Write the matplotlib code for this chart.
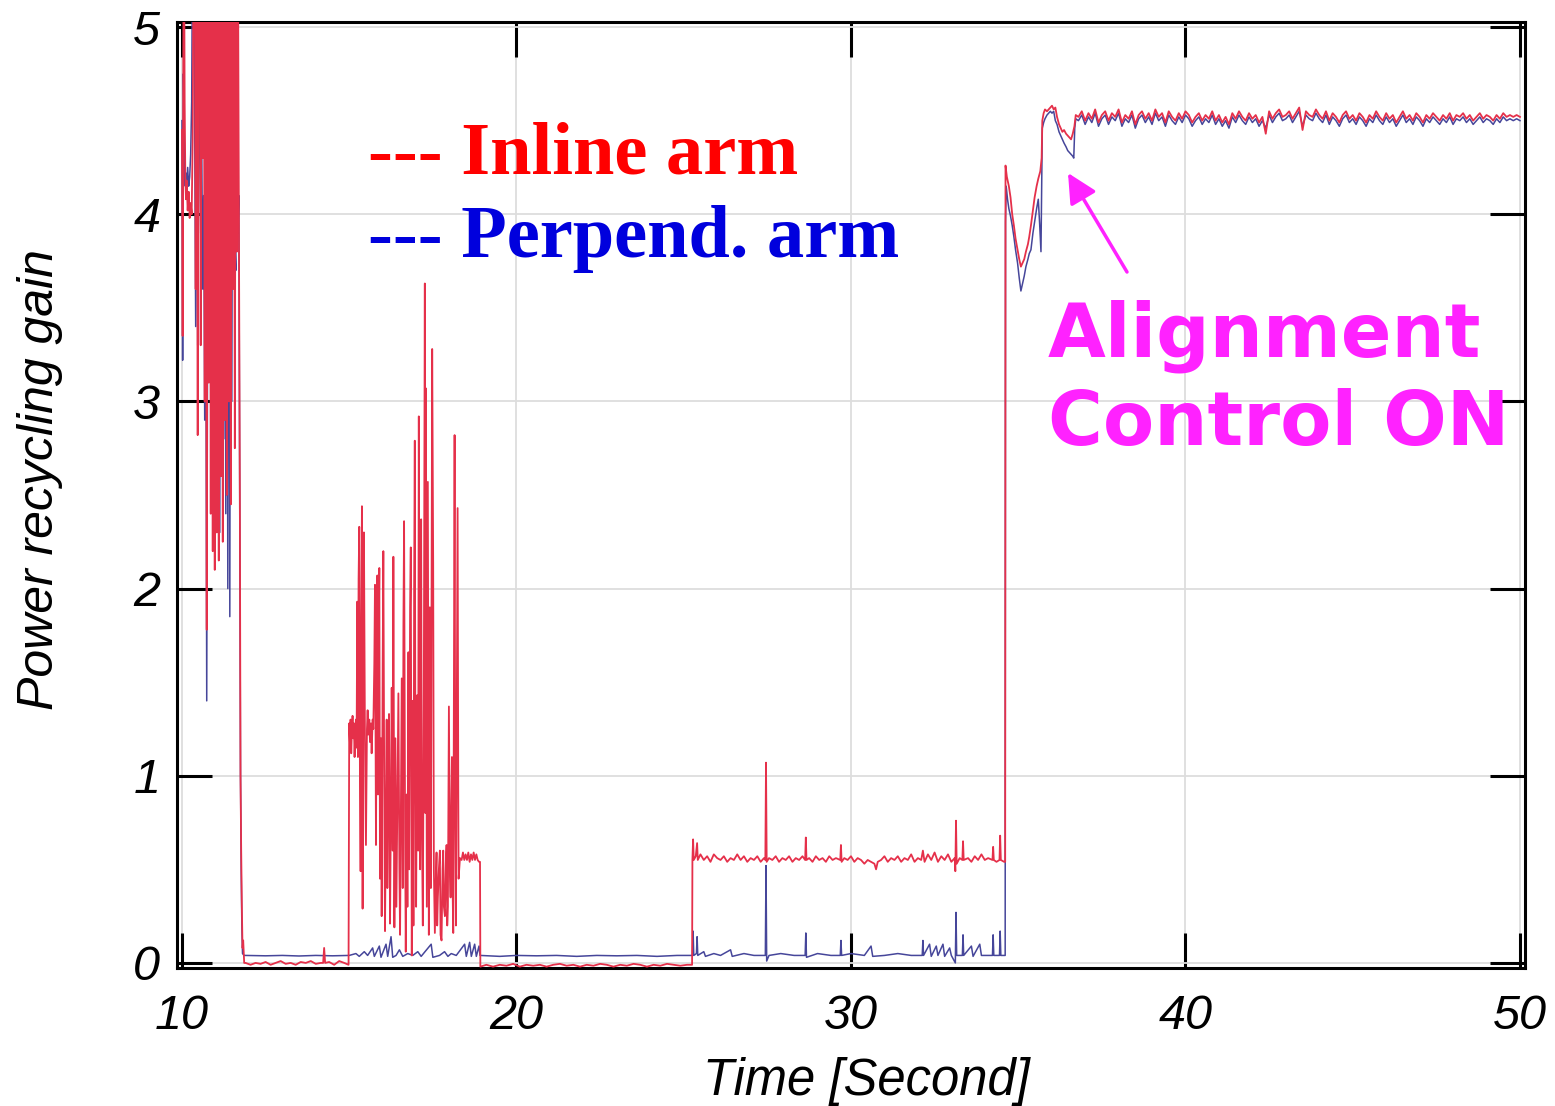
import numpy as np
import matplotlib
matplotlib.use('Agg')
import matplotlib.pyplot as plt

# gain, (time [s], gain); values above 5 run off the top
inline_swing = [(10.00, 4.45), (10.02, 3.35), (10.04, 4.9), (10.06, 5.6), (10.08, 4.6), (10.10, 4.2),
                (10.12, 4.08), (10.14, 4.18), (10.17, 4.02), (10.20, 4.12), (10.23, 3.98), (10.26, 4.06),
                (10.29, 4.0), (10.32, 4.4), (10.35, 5.6), (10.38, 5.6), (10.41, 3.6), (10.44, 5.6),
                (10.47, 2.82), (10.50, 5.6), (10.53, 5.6), (10.56, 3.3), (10.59, 5.6), (10.62, 4.3),
                (10.65, 5.6), (10.68, 3.0), (10.71, 5.6), (10.74, 1.78), (10.77, 5.6), (10.80, 3.1),
                (10.83, 5.6), (10.86, 2.4), (10.89, 5.6), (10.92, 2.2), (10.95, 5.6), (10.98, 2.1),
                (11.01, 5.6), (11.04, 2.3), (11.07, 5.6), (11.10, 2.15), (11.13, 5.6), (11.16, 2.6),
                (11.19, 5.6), (11.22, 2.25), (11.25, 5.6), (11.28, 2.9), (11.31, 5.6), (11.34, 2.5),
                (11.37, 5.6), (11.40, 3.0), (11.43, 5.6), (11.46, 2.45), (11.49, 5.6), (11.52, 3.6),
                (11.55, 5.6), (11.58, 2.75), (11.61, 5.6), (11.64, 3.8), (11.67, 5.6), (11.70, 4.1),
                (11.73, 2.5), (11.75, 1.0), (11.77, 0.6), (11.79, 0.3), (11.81, 0.08), (11.83, 0.12),
                (11.86, 0.0)]
perp_swing = [(10.00, 4.5), (10.02, 3.22), (10.04, 4.75), (10.06, 4.55), (10.08, 4.2), (10.10, 4.15),
              (10.12, 4.22), (10.14, 4.12), (10.17, 4.25), (10.20, 4.15), (10.23, 4.2), (10.26, 4.32),
              (10.29, 4.6), (10.32, 5.6), (10.35, 5.6), (10.38, 4.5), (10.41, 3.4), (10.44, 5.6),
              (10.47, 3.3), (10.50, 4.87), (10.53, 4.4), (10.56, 3.9), (10.59, 4.38), (10.62, 3.6),
              (10.65, 4.1), (10.68, 2.9), (10.71, 4.0), (10.74, 1.4), (10.77, 3.8), (10.80, 4.4),
              (10.83, 3.7), (10.86, 4.26), (10.89, 3.5), (10.92, 4.35), (10.95, 3.3), (10.98, 4.3),
              (11.01, 2.9), (11.04, 4.2), (11.07, 2.4), (11.10, 5.6), (11.13, 2.3), (11.16, 5.6),
              (11.19, 2.6), (11.22, 5.6), (11.25, 2.8), (11.28, 5.6), (11.31, 2.4), (11.34, 5.6),
              (11.37, 2.0), (11.40, 5.6), (11.43, 1.85), (11.46, 5.6), (11.49, 3.0), (11.52, 5.6),
              (11.55, 3.7), (11.58, 3.85), (11.61, 3.7), (11.64, 5.6), (11.67, 3.9), (11.70, 4.1),
              (11.73, 2.2), (11.75, 1.0), (11.77, 0.5), (11.79, 0.2), (11.81, 0.05), (11.86, 0.04)]

inline_low1 = [(11.90, 0.0), (12.05, -0.01), (12.2, 0.0), (12.35, -0.005), (12.5, 0.005), (12.65, -0.01),
               (12.8, 0.0), (12.95, 0.01), (13.1, -0.005), (13.25, 0.0), (13.4, -0.01), (13.55, 0.005),
               (13.7, 0.0), (13.85, 0.01), (14.0, -0.005), (14.15, 0.0), (14.22, 0.0), (14.25, 0.08),
               (14.28, 0.0), (14.4, 0.005), (14.55, -0.01), (14.7, 0.01), (14.85, 0.0), (14.98, -0.01)]
perp_low1 = [(11.90, 0.04), (12.5, 0.038), (13.0, 0.04), (13.5, 0.037), (14.0, 0.04), (14.5, 0.038),
             (14.98, 0.04)]

inline_flash = [(15.00, 1.28), (15.02, 1.18), (15.04, 1.30), (15.06, 1.12), (15.08, 1.25), (15.10, 1.32),
                (15.12, 1.20), (15.14, 1.28), (15.16, 1.10), (15.18, 1.24), (15.20, 1.30), (15.22, 1.15),
                (15.24, 1.93), (15.26, 1.10), (15.28, 2.05), (15.30, 2.33), (15.32, 1.0), (15.34, 0.49),
                (15.36, 1.8), (15.38, 2.44), (15.40, 0.29), (15.42, 1.5), (15.44, 2.30), (15.47, 1.2),
                (15.50, 0.63), (15.53, 1.25), (15.55, 1.35), (15.57, 1.22), (15.60, 1.30), (15.62, 1.18),
                (15.65, 1.28), (15.67, 1.12), (15.70, 1.30), (15.72, 1.25), (15.75, 1.6), (15.77, 2.02),
                (15.80, 0.63), (15.82, 1.5), (15.84, 2.07), (15.86, 0.9), (15.88, 1.7), (15.90, 2.11),
                (15.92, 0.45), (15.95, 1.2), (15.97, 0.25), (16.00, 1.6), (16.02, 2.20), (16.05, 0.8),
                (16.07, 0.17), (16.10, 0.9), (16.12, 1.30), (16.14, 0.4), (16.17, 1.1), (16.19, 1.33),
                (16.22, 0.21), (16.25, 0.9), (16.27, 1.47), (16.30, 0.6), (16.32, 2.17), (16.35, 0.19),
                (16.38, 1.2), (16.41, 0.3), (16.44, 0.9), (16.47, 1.44), (16.50, 0.5), (16.52, 0.15),
                (16.55, 1.0), (16.57, 1.52), (16.60, 0.4), (16.62, 1.8), (16.64, 2.36), (16.67, 0.7),
                (16.69, 0.06), (16.72, 0.9), (16.74, 0.3), (16.77, 1.66), (16.79, 0.5), (16.82, 1.9),
                (16.84, 2.22), (16.87, 0.04), (16.90, 1.4), (16.92, 0.2), (16.94, 2.0), (16.96, 2.79),
                (16.98, 0.9), (17.00, 0.3), (17.03, 1.43), (17.06, 0.6), (17.08, 2.92), (17.10, 1.2),
                (17.12, 0.5), (17.15, 2.37), (17.17, 0.8), (17.20, 0.2), (17.23, 1.45), (17.26, 3.63),
                (17.28, 0.8), (17.29, 3.07), (17.32, 0.3), (17.35, 2.57), (17.38, 0.15), (17.41, 1.9),
                (17.44, 0.4), (17.48, 3.28), (17.51, 2.13), (17.53, 0.5), (17.56, 0.16), (17.59, 0.45),
                (17.61, 0.59), (17.63, 0.2), (17.65, 0.35), (17.68, 0.5), (17.71, 0.6), (17.73, 0.15),
                (17.76, 0.12), (17.79, 0.5), (17.81, 0.6), (17.83, 0.3), (17.86, 0.25), (17.89, 0.55),
                (17.91, 0.63), (17.93, 0.2), (17.95, 0.3), (17.98, 1.37), (18.01, 0.5), (18.03, 0.35),
                (18.05, 0.8), (18.07, 1.1), (18.09, 0.4), (18.11, 0.16), (18.13, 1.5), (18.15, 2.82),
                (18.17, 0.8), (18.19, 0.2), (18.22, 1.6), (18.24, 2.43), (18.26, 0.9), (18.27, 0.45),
                (18.31, 0.56), (18.36, 0.55), (18.40, 0.59), (18.44, 0.55), (18.48, 0.58), (18.52, 0.55),
                (18.56, 0.59), (18.60, 0.54), (18.64, 0.58), (18.68, 0.55), (18.72, 0.59), (18.76, 0.55),
                (18.80, 0.58), (18.84, 0.55), (18.88, 0.54), (18.91, 0.54)]
perp_flash = [(15.0, 0.04), (15.2, 0.05), (15.3, 0.035), (15.45, 0.06), (15.55, 0.04), (15.7, 0.08),
              (15.75, 0.035), (15.9, 0.09), (15.95, 0.03), (16.1, 0.1), (16.15, 0.035), (16.25, 0.14),
              (16.3, 0.03), (16.4, 0.04), (16.5, 0.07), (16.6, 0.035), (16.75, 0.05), (16.9, 0.04),
              (17.05, 0.06), (17.15, 0.035), (17.45, 0.1), (17.5, 0.03), (17.7, 0.04), (17.85, 0.06),
              (17.95, 0.035), (18.05, 0.05), (18.2, 0.04), (18.45, 0.1), (18.5, 0.035), (18.6, 0.11),
              (18.65, 0.035), (18.75, 0.1), (18.8, 0.035), (18.88, 0.09), (18.91, 0.04)]

inline_low2 = [(18.92, -0.02), (19.1, -0.01), (19.3, -0.02), (19.5, -0.01), (19.7, -0.015), (19.9, -0.005),
               (20.1, -0.02), (20.3, -0.01), (20.5, -0.015), (20.7, -0.01), (20.9, -0.02), (21.1, -0.01),
               (21.3, -0.005), (21.5, -0.015), (21.7, -0.01), (21.9, -0.02), (22.1, -0.01), (22.3, -0.015),
               (22.5, -0.005), (22.7, -0.01), (22.9, -0.02), (23.1, -0.01), (23.3, -0.015), (23.5, -0.005),
               (23.7, -0.01), (23.9, -0.02), (24.1, -0.01), (24.3, -0.015), (24.5, -0.005), (24.7, -0.01),
               (24.9, -0.015), (25.1, -0.01), (25.25, -0.01)]
perp_low2 = [(18.92, 0.04), (19.5, 0.035), (20.0, 0.04), (20.6, 0.038), (21.2, 0.04), (21.8, 0.035),
             (22.4, 0.04), (23.0, 0.038), (23.6, 0.04), (24.2, 0.035), (24.8, 0.04), (25.25, 0.04)]

inline_mid = [(25.26, 0.55), (25.28, 0.66), (25.30, 0.55), (25.36, 0.57), (25.40, 0.64), (25.42, 0.55),
              (25.5, 0.58), (25.6, 0.55), (25.7, 0.57), (25.8, 0.54), (25.9, 0.58), (26.0, 0.56),
              (26.1, 0.55), (26.2, 0.57), (26.3, 0.54), (26.4, 0.56), (26.5, 0.55), (26.6, 0.58),
              (26.7, 0.55), (26.8, 0.57), (26.9, 0.54), (27.0, 0.56), (27.1, 0.55), (27.2, 0.57),
              (27.3, 0.54), (27.4, 0.56), (27.44, 0.55), (27.46, 1.07), (27.48, 0.54), (27.55, 0.56),
              (27.65, 0.55), (27.75, 0.57), (27.85, 0.54), (27.95, 0.56), (28.05, 0.55), (28.15, 0.57),
              (28.25, 0.54), (28.35, 0.56), (28.45, 0.55), (28.55, 0.57), (28.63, 0.55), (28.65, 0.67),
              (28.67, 0.55), (28.75, 0.56), (28.85, 0.54), (28.95, 0.57), (29.05, 0.55), (29.15, 0.56),
              (29.25, 0.54), (29.35, 0.57), (29.45, 0.55), (29.55, 0.56), (29.68, 0.55), (29.70, 0.63),
              (29.72, 0.54), (29.8, 0.56), (29.9, 0.55), (30.0, 0.57), (30.1, 0.54), (30.2, 0.56),
              (30.3, 0.55), (30.4, 0.53), (30.5, 0.55), (30.6, 0.54), (30.7, 0.53), (30.75, 0.50),
              (30.8, 0.54), (30.9, 0.55), (31.0, 0.57), (31.1, 0.54), (31.2, 0.56), (31.3, 0.55),
              (31.4, 0.57), (31.5, 0.54), (31.6, 0.56), (31.7, 0.55), (31.8, 0.58), (31.9, 0.54),
              (32.0, 0.56), (32.1, 0.55), (32.15, 0.60), (32.2, 0.54), (32.3, 0.58), (32.4, 0.55),
              (32.5, 0.59), (32.6, 0.54), (32.7, 0.57), (32.8, 0.55), (32.9, 0.58), (33.0, 0.54),
              (33.1, 0.56), (33.12, 0.49), (33.14, 0.76), (33.16, 0.53), (33.25, 0.56), (33.33, 0.55),
              (33.35, 0.65), (33.37, 0.55), (33.5, 0.56), (33.6, 0.54), (33.7, 0.57), (33.8, 0.55),
              (33.9, 0.58), (34.0, 0.55), (34.1, 0.56), (34.23, 0.55), (34.25, 0.62), (34.27, 0.55),
              (34.35, 0.54), (34.44, 0.55), (34.46, 0.68), (34.48, 0.55), (34.58, 0.54), (34.61, 0.54)]
perp_mid = [(25.26, 0.04), (25.28, 0.17), (25.30, 0.04), (25.38, 0.05), (25.40, 0.14), (25.42, 0.04),
            (25.6, 0.06), (25.65, 0.035), (25.9, 0.05), (26.1, 0.04), (26.4, 0.07), (26.45, 0.035),
            (26.8, 0.05), (27.1, 0.04), (27.44, 0.04), (27.46, 0.52), (27.48, 0.01), (27.55, 0.04),
            (27.9, 0.05), (28.3, 0.04), (28.63, 0.04), (28.65, 0.16), (28.67, 0.03), (29.0, 0.05),
            (29.4, 0.04), (29.68, 0.04), (29.70, 0.12), (29.72, 0.04), (30.0, 0.05), (30.4, 0.04),
            (30.6, 0.09), (30.65, 0.035), (31.0, 0.04), (31.4, 0.05), (31.8, 0.04), (32.13, 0.04),
            (32.15, 0.12), (32.17, 0.04), (32.35, 0.1), (32.4, 0.035), (32.55, 0.09), (32.6, 0.04),
            (32.75, 0.1), (32.8, 0.035), (32.95, 0.08), (33.0, 0.04), (33.12, 0.0), (33.14, 0.27),
            (33.16, 0.04), (33.33, 0.04), (33.35, 0.15), (33.37, 0.04), (33.6, 0.09), (33.65, 0.035),
            (33.85, 0.1), (33.9, 0.04), (34.23, 0.04), (34.25, 0.15), (34.27, 0.04), (34.44, 0.04),
            (34.46, 0.17), (34.48, 0.04), (34.61, 0.04)]

inline_lock = [(34.62, 4.26), (34.66, 4.20), (34.72, 4.15), (34.77, 4.09), (34.82, 4.0), (34.87, 3.94),
               (34.92, 3.87), (34.98, 3.81), (35.03, 3.76), (35.08, 3.72), (35.13, 3.74), (35.18, 3.76),
               (35.23, 3.80), (35.29, 3.84), (35.33, 3.88), (35.38, 3.94), (35.44, 4.02), (35.49, 4.09),
               (35.55, 4.15), (35.60, 4.19), (35.66, 4.23), (35.70, 4.3), (35.72, 4.50), (35.76, 4.54),
               (35.80, 4.56), (35.86, 4.55), (35.91, 4.56), (35.96, 4.57), (36.01, 4.58), (36.06, 4.56),
               (36.11, 4.57), (36.16, 4.52), (36.22, 4.48), (36.27, 4.46), (36.32, 4.44), (36.37, 4.45),
               (36.43, 4.43), (36.48, 4.42), (36.53, 4.41), (36.58, 4.40), (36.63, 4.43), (36.68, 4.47),
               (36.72, 4.53)]
perp_lock = [(34.62, 3.96), (34.64, 4.15), (34.68, 4.08), (34.72, 4.03), (34.77, 3.99), (34.82, 3.94),
             (34.87, 3.88), (34.92, 3.81), (34.98, 3.74), (35.03, 3.66), (35.08, 3.59), (35.13, 3.63),
             (35.18, 3.67), (35.23, 3.72), (35.29, 3.76), (35.33, 3.79), (35.38, 3.81), (35.44, 3.90),
             (35.49, 3.96), (35.55, 4.03), (35.60, 4.08), (35.64, 3.95), (35.68, 3.80), (35.72, 4.46),
             (35.76, 4.49), (35.80, 4.51), (35.86, 4.53), (35.91, 4.54), (35.96, 4.55), (36.01, 4.54),
             (36.06, 4.55), (36.11, 4.50), (36.16, 4.48), (36.22, 4.44), (36.27, 4.42), (36.32, 4.40),
             (36.37, 4.38), (36.43, 4.36), (36.48, 4.34), (36.53, 4.33), (36.58, 4.32), (36.63, 4.31),
             (36.66, 4.30), (36.69, 4.46), (36.72, 4.51)]

# steady state after alignment control, one reading every 0.1 s from 36.8 s to 50 s
inline_steady = [4.52, 4.55, 4.50, 4.54, 4.51, 4.56, 4.49, 4.53, 4.55, 4.50,
                 4.54, 4.52, 4.56, 4.49, 4.53, 4.51, 4.55, 4.48, 4.53, 4.55,
                 4.51, 4.54, 4.50, 4.56, 4.52, 4.54, 4.49, 4.55, 4.52, 4.50,
                 4.54, 4.51, 4.55, 4.53, 4.49, 4.52, 4.54, 4.50, 4.53, 4.51,
                 4.55, 4.50, 4.53, 4.49, 4.52, 4.48, 4.54, 4.51, 4.55, 4.52,
                 4.50, 4.54, 4.51, 4.53, 4.49, 4.52, 4.43, 4.55, 4.51, 4.54,
                 4.56, 4.52, 4.53, 4.55, 4.51, 4.54, 4.57, 4.45, 4.55, 4.53,
                 4.52, 4.56, 4.53, 4.51, 4.55, 4.50, 4.54, 4.52, 4.49, 4.53,
                 4.55, 4.51, 4.53, 4.50, 4.54, 4.52, 4.49, 4.53, 4.51, 4.55,
                 4.52, 4.50, 4.54, 4.51, 4.53, 4.49, 4.52, 4.55, 4.51, 4.53,
                 4.50, 4.54, 4.52, 4.49, 4.53, 4.51, 4.54, 4.52, 4.50, 4.53,
                 4.51, 4.54, 4.50, 4.53, 4.52, 4.54, 4.51, 4.53, 4.50, 4.52,
                 4.54, 4.51, 4.53, 4.52, 4.50, 4.53, 4.51, 4.54, 4.52, 4.53,
                 4.52, 4.53, 4.52]
perp_steady = [4.50, 4.53, 4.48, 4.52, 4.49, 4.54, 4.47, 4.51, 4.53, 4.48,
               4.52, 4.50, 4.54, 4.47, 4.51, 4.49, 4.53, 4.46, 4.51, 4.53,
               4.49, 4.52, 4.48, 4.54, 4.50, 4.52, 4.47, 4.53, 4.50, 4.48,
               4.52, 4.49, 4.53, 4.51, 4.47, 4.50, 4.52, 4.48, 4.51, 4.49,
               4.53, 4.48, 4.51, 4.47, 4.50, 4.46, 4.52, 4.49, 4.53, 4.50,
               4.48, 4.52, 4.49, 4.51, 4.47, 4.50, 4.46, 4.53, 4.49, 4.52,
               4.54, 4.50, 4.51, 4.53, 4.49, 4.52, 4.55, 4.47, 4.53, 4.51,
               4.50, 4.54, 4.51, 4.49, 4.53, 4.48, 4.52, 4.50, 4.47, 4.51,
               4.53, 4.49, 4.51, 4.48, 4.52, 4.50, 4.47, 4.51, 4.49, 4.53,
               4.50, 4.48, 4.52, 4.49, 4.51, 4.47, 4.50, 4.53, 4.49, 4.51,
               4.48, 4.52, 4.50, 4.47, 4.51, 4.49, 4.52, 4.50, 4.48, 4.51,
               4.49, 4.52, 4.48, 4.51, 4.50, 4.52, 4.49, 4.51, 4.48, 4.50,
               4.52, 4.49, 4.51, 4.50, 4.48, 4.51, 4.49, 4.52, 4.50, 4.51,
               4.50, 4.51, 4.50]

x_ticks = [10, 20, 30, 40, 50]
y_ticks = [0, 1, 2, 3, 4, 5]


def join(segments, steady):
    pts = [p for seg in segments for p in seg]
    t = [p[0] for p in pts]
    g = [p[1] for p in pts]
    t_s = np.linspace(36.8, 50.0, len(steady))
    return np.concatenate([t, t_s]), np.concatenate([g, steady])


t_in, g_in = join([inline_swing, inline_low1, inline_flash, inline_low2, inline_mid, inline_lock], inline_steady)
t_pp, g_pp = join([perp_swing, perp_low1, perp_flash, perp_low2, perp_mid, perp_lock], perp_steady)

plt.rcParams['font.family'] = ['Liberation Sans', 'DejaVu Sans']
plt.rcParams['font.style'] = 'italic'

fig = plt.figure(figsize=(15.55, 11.06), dpi=100)
ax = fig.add_axes([0.1138, 0.1248, 0.8669, 0.8553])

ax.plot(t_pp, g_pp, color='#46469a', lw=1.1, zorder=3)
ax.plot(t_in, g_in, color='#e5304a', lw=1.3, zorder=4)

ax.set_xlim(9.85, 50.15)
ax.set_ylim(-0.027, 5.027)
ax.set_xticks(x_ticks)
ax.set_yticks(y_ticks)
ax.grid(True, color='#dddddd', lw=1.3, zorder=0)
ax.tick_params(direction='in', length=25, width=2.2, top=True, right=True,
               labelsize=35, colors='black')
ax.tick_params(axis='x', pad=19)
ax.tick_params(axis='y', pad=12)
for s in ax.spines.values():
    s.set_linewidth(2.2)

fig.text(866 / 1555, 1 - 1082 / 1106, 'Time [Second]', fontsize=36.5, ha='center', va='center')
fig.text(40 / 1555, 1 - 480 / 1106, 'Power recycling gain', fontsize=36, rotation=90,
         ha='center', va='center')

fig.text(368 / 1555, 1 - 173 / 1106, '--- Inline arm', color='#ff0000', fontsize=53.6,
         family='Liberation Serif', weight='bold', style='normal', va='baseline')
fig.text(368 / 1555, 1 - 257 / 1106, '--- Perpend. arm', color='#0000dd', fontsize=53.6,
         family='Liberation Serif', weight='bold', style='normal', va='baseline')

fig.text(1048 / 1555, 1 - 357 / 1106, 'Alignment', color='#ff22ff', fontsize=53.8,
         family='DejaVu Sans', weight='bold', style='normal', va='baseline')
fig.text(1048 / 1555, 1 - 445 / 1106, 'Control ON', color='#ff22ff', fontsize=53.8,
         family='DejaVu Sans', weight='bold', style='normal', va='baseline')
ax.annotate('', xy=(1068, 1106 - 173), xycoords='figure pixels',
            xytext=(1127, 1106 - 272), textcoords='figure pixels',
            arrowprops=dict(arrowstyle='-|>', color='#ff22ff', lw=2.5, mutation_scale=45,
                            shrinkA=0, shrinkB=0))

fig.savefig('out.png', dpi=100)
